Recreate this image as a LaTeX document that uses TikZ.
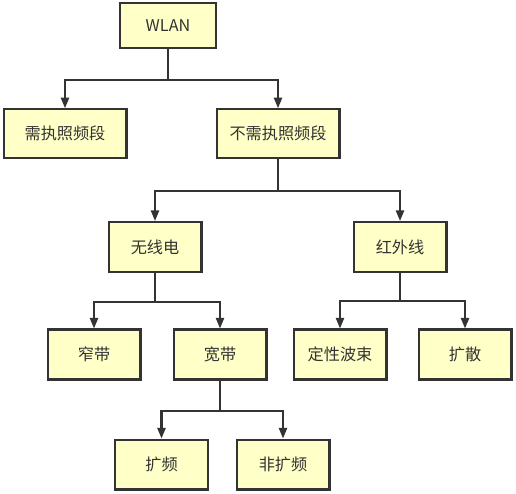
\documentclass[tikz,border=0pt]{standalone}
\usepackage{fontspec}
\setmainfont{Noto Sans CJK SC}
\usepackage{xcolor}
\usetikzlibrary{arrows.meta,positioning}
\definecolor{boxfill}{HTML}{FFFFC8}
\definecolor{ink}{HTML}{333333}

\begin{document}
\begin{tikzpicture}[
  x=0.02cm,y=-0.02cm,
  box/.style={draw=ink,line width=1.15pt,fill=boxfill,text=ink,font=\fontsize{9.2}{11}\selectfont,minimum width=1.86cm,minimum height=1.0cm,inner sep=0pt},
  topbox/.style={box,minimum width=1.92cm,minimum height=0.90cm},
  widebox/.style={box,minimum width=2.46cm,minimum height=0.97cm},
  arrow/.style={-{Triangle[length=6pt,width=4.6pt]},line width=1.15pt,draw=ink}
]
\useasboundingbox (0,0) rectangle (516,493);
\node[topbox] (wlan) at (168,25.5) {WLAN};
\node[widebox] (lic) at (65,133.5) {需执照频段};
\node[widebox] (unlic) at (278,133.5) {不需执照频段};
\node[box] (radio) at (155,247) {无线电};
\node[box] (ir) at (400,247) {红外线};
\node[box] (narrow) at (94,354.5) {窄带};
\node[box] (wide) at (220,354.5) {宽带};
\node[box] (beam) at (340,354.5) {定性波束};
\node[box] (diffuse) at (465,354.5) {扩散};
\node[box] (spread) at (161.5,464.5) {扩频};
\node[box] (nonspread) at (283,464.5) {非扩频};

\draw[arrow] (wlan.south) -- ++(0,31) -| (lic.north);
\draw[arrow] (wlan.south) -- ++(0,31) -| (unlic.north);
\draw[arrow] (unlic.south) -- ++(0,32) -| (radio.north);
\draw[arrow] (unlic.south) -- ++(0,32) -| (ir.north);
\draw[arrow] (radio.south) -- ++(0,29) -| (narrow.north);
\draw[arrow] (radio.south) -- ++(0,29) -| (wide.north);
\draw[arrow] (ir.south) -- ++(0,28) -| (beam.north);
\draw[arrow] (ir.south) -- ++(0,28) -| (diffuse.north);
\draw[arrow] (wide.south) -- ++(0,30) -| (spread.north);
\draw[arrow] (wide.south) -- ++(0,30) -| (nonspread.north);
\end{tikzpicture}
\end{document}
